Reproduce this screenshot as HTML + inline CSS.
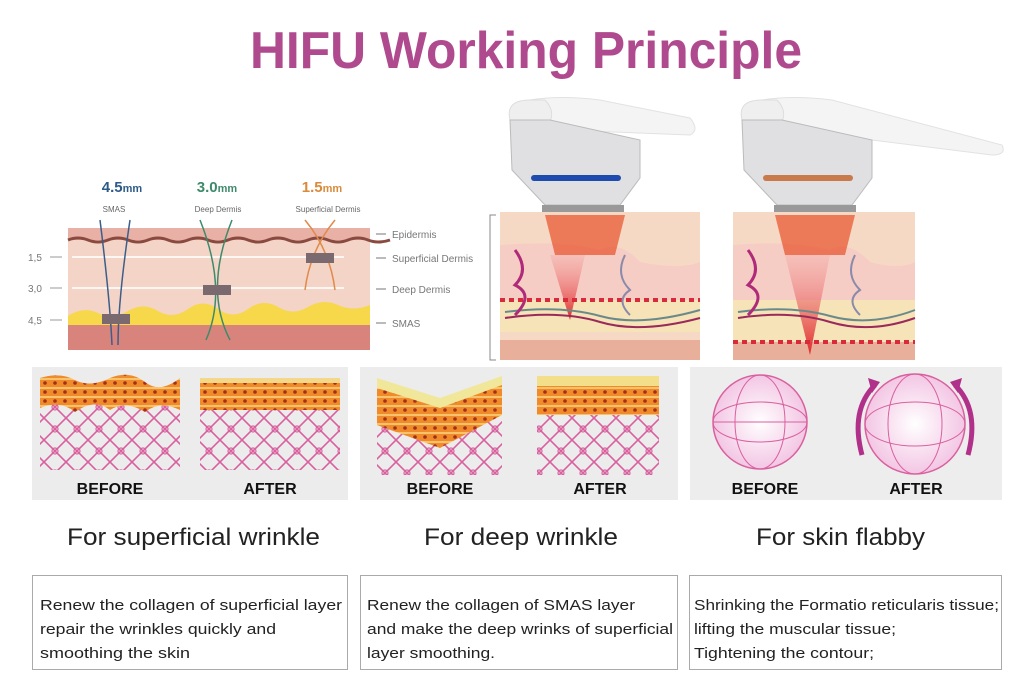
<!DOCTYPE html>
<html><head><meta charset="utf-8"><style>
html,body{margin:0;padding:0;background:#fff;}
svg{display:block;}
</style></head><body>
<svg width="1024" height="680" viewBox="0 0 1024 680" xmlns="http://www.w3.org/2000/svg" font-family="Liberation Sans, sans-serif">
<defs>
<pattern id="mesh" width="22" height="22" patternUnits="userSpaceOnUse">
<path d="M0 0L22 22M22 0L0 22" stroke="#d9609f" stroke-width="1.6" fill="none"/>
<circle cx="11" cy="11" r="3" fill="none" stroke="#d9609f" stroke-width="1.2"/>
</pattern>
<pattern id="dots" width="10" height="9" patternUnits="userSpaceOnUse">
<rect width="10" height="9" fill="#f08a2a"/><rect width="10" height="2" fill="#f6c36a"/><circle cx="5" cy="5" r="1.8" fill="#a0301a"/>
</pattern>
<linearGradient id="beam" x1="0" y1="0" x2="0" y2="1"><stop offset="0" stop-color="#f4a0a0" stop-opacity=".3"/><stop offset="1" stop-color="#e02a2a"/></linearGradient>
<radialGradient id="sph" cx=".5" cy=".5" r=".5"><stop offset="0" stop-color="#fff"/><stop offset="1" stop-color="#f3c6e4"/></radialGradient>
</defs>

<text x="250" y="68" font-size="52" font-weight="bold" fill="#b04a8e" textLength="552" lengthAdjust="spacingAndGlyphs">HIFU Working Principle</text>

<!-- left skin -->
<text x="122" y="192" text-anchor="middle" font-size="15" font-weight="bold" fill="#2d5b87">4.5<tspan font-size="11">mm</tspan></text>
<text x="217" y="192" text-anchor="middle" font-size="15" font-weight="bold" fill="#3e8a6a">3.0<tspan font-size="11">mm</tspan></text>
<text x="322" y="192" text-anchor="middle" font-size="15" font-weight="bold" fill="#d98a3a">1.5<tspan font-size="11">mm</tspan></text>
<text x="114" y="212" text-anchor="middle" font-size="8" fill="#666">SMAS</text>
<text x="218" y="212" text-anchor="middle" font-size="8" fill="#666">Deep Dermis</text>
<text x="328" y="212" text-anchor="middle" font-size="8" fill="#666">Superficial Dermis</text>
<rect x="68" y="228" width="302" height="122" fill="#f3d4c6"/>
<rect x="68" y="228" width="302" height="12" fill="#e9b1a6"/>
<path d="M68 240 q10 -4 20 0 t20 0 t20 0 t20 0 t20 0 t20 0 t20 0 t20 0 t20 0 t20 0 t20 0 t20 0 t20 0 t20 0 t20 0 t22 0" stroke="#8a4a40" stroke-width="3" fill="none"/>
<rect x="72" y="256" width="272" height="2" fill="#fff" opacity=".8"/>
<rect x="72" y="287" width="272" height="2" fill="#fff" opacity=".8"/>
<path d="M68 316 q15 -10 30 -3 t30 -2 t30 0 t30 -2 t30 0 t30 0 t30 -2 t30 0 t30 -2 t32 0 V330 H68Z" fill="#f6d84a"/>
<rect x="68" y="325" width="302" height="25" fill="#d9837d"/>
<g stroke-width="1.5" fill="none">
<path d="M100 220 Q110 300 112 345 M130 220 Q118 300 118 345" stroke="#3c5e8a"/>
<path d="M200 220 Q228 290 206 340 M232 220 Q204 290 230 340" stroke="#3e8a6a"/>
<path d="M305 220 Q330 250 335 290 M335 220 Q310 250 305 290" stroke="#e08a4a"/>
</g>
<rect x="102" y="314" width="28" height="10" fill="#7a6a70"/>
<rect x="203" y="285" width="28" height="10" fill="#7a6a70"/>
<rect x="306" y="253" width="28" height="10" fill="#7a6a70"/>
<g font-size="10" fill="#777">
<text x="28" y="261">1,5</text><text x="28" y="292">3,0</text><text x="28" y="324">4,5</text>
<line x1="50" y1="257" x2="62" y2="257" stroke="#999"/><line x1="50" y1="288" x2="62" y2="288" stroke="#999"/><line x1="50" y1="320" x2="62" y2="320" stroke="#999"/>
<text x="392" y="238">Epidermis</text><text x="392" y="262">Superficial Dermis</text><text x="392" y="293">Deep Dermis</text><text x="392" y="327">SMAS</text>
<line x1="376" y1="234" x2="386" y2="234" stroke="#777"/><line x1="376" y1="258" x2="386" y2="258" stroke="#777"/><line x1="376" y1="289" x2="386" y2="289" stroke="#777"/><line x1="376" y1="323" x2="386" y2="323" stroke="#777"/>
</g>
<path d="M496 215 H490 V360 H496" stroke="#888" fill="none"/>

<!-- handpieces -->
<g>
<path d="M530 100 Q560 95 600 100 L690 118 Q700 130 690 135 L560 130 Z" fill="#f4f4f4" stroke="#e2e2e2"/>
<path d="M510 120 Q505 100 530 100 L545 100 Q555 110 550 122 Z" fill="#efefef" stroke="#ddd"/>
<path d="M510 120 H550 L640 140 V178 L620 205 H545 L512 170 Z" fill="#e0e0e3" stroke="#bbb"/>
<rect x="531" y="175" width="90" height="6" rx="3" fill="#1e4bb0"/>
<rect x="542" y="205" width="82" height="7" fill="#999"/>
</g>
<g transform="translate(232 0)">
<path d="M530 100 Q560 95 600 100 L770 145 Q775 155 760 155 L560 130 Z" fill="#f4f4f4" stroke="#e2e2e2"/>
<path d="M510 120 Q505 100 530 100 L545 100 Q555 110 550 122 Z" fill="#efefef" stroke="#ddd"/>
<path d="M510 120 H550 L640 140 V178 L620 205 H545 L512 170 Z" fill="#e0e0e3" stroke="#bbb"/>
<rect x="531" y="175" width="90" height="6" rx="3" fill="#c87a4a"/>
<rect x="542" y="205" width="82" height="7" fill="#999"/>
</g>

<!-- right skin panels -->
<g>
<rect x="500" y="212" width="200" height="148" fill="#f6d9c4"/>
<path d="M500 245 Q560 240 600 250 Q620 240 640 262 Q680 270 700 262 V300 H500Z" fill="#f6cdc4"/>
<rect x="500" y="300" width="200" height="32" fill="#f6e3b8"/>
<rect x="500" y="340" width="200" height="20" fill="#e8b09a"/>
<path d="M545 215 h80 l-10 40 h-60z" fill="#e8502a" opacity=".7"/>
<path d="M550 255 L585 255 L570 320 Z" fill="url(#beam)"/>
<path d="M500 300 H700" stroke="#d82a3a" stroke-width="4" stroke-dasharray="5 4"/>
<path d="M505 318 Q560 310 600 322 T700 318" stroke="#9a2a5a" stroke-width="2" fill="none"/>
<path d="M505 312 Q560 305 600 316 T700 310" stroke="#6a8a8a" stroke-width="2" fill="none"/>
<path d="M515 250 q15 20 0 35 q20 10 0 30" stroke="#b02a7a" stroke-width="3" fill="none"/>
<path d="M625 255 q-10 20 5 35 q-15 10 0 25" stroke="#8a8aaa" stroke-width="2" fill="none"/>
</g>
<g>
<rect x="733" y="212" width="182" height="148" fill="#f6d9c4"/>
<path d="M733 245 Q790 240 830 250 Q850 240 870 262 Q900 270 915 262 V300 H733Z" fill="#f6cdc4"/>
<rect x="733" y="300" width="182" height="42" fill="#f6e3b8"/>
<rect x="733" y="342" width="182" height="18" fill="#e8b09a"/>
<path d="M775 215 h80 l-10 40 h-60z" fill="#e8502a" opacity=".7"/>
<path d="M785 255 L830 255 L810 355 Z" fill="url(#beam)"/>
<path d="M733 342 H915" stroke="#d82a3a" stroke-width="4" stroke-dasharray="5 4"/>
<path d="M738 318 Q790 310 830 322 T915 318" stroke="#9a2a5a" stroke-width="2" fill="none"/>
<path d="M738 312 Q790 305 830 316 T915 310" stroke="#6a8a8a" stroke-width="2" fill="none"/>
<path d="M748 250 q15 20 0 35 q20 10 0 30" stroke="#b02a7a" stroke-width="3" fill="none"/>
<path d="M855 255 q-10 20 5 35 q-15 10 0 25" stroke="#8a8aaa" stroke-width="2" fill="none"/>
</g>

<!-- bottom panels -->
<rect x="32" y="367" width="316" height="133" fill="#ececec"/>
<rect x="360" y="367" width="318" height="133" fill="#ececec"/>
<rect x="690" y="367" width="312" height="133" fill="#ededed"/>

<rect x="40" y="390" width="140" height="80" fill="url(#mesh)"/>
<path d="M40 378 Q60 372 75 380 T110 378 Q130 370 145 382 T180 378 V410 Q160 400 145 412 Q125 400 110 410 Q95 398 75 412 Q60 400 40 408Z" fill="url(#dots)"/>
<rect x="200" y="395" width="140" height="75" fill="url(#mesh)"/>
<rect x="200" y="382" width="140" height="28" fill="url(#dots)"/>
<rect x="200" y="378" width="140" height="5" fill="#f3d88a"/>

<rect x="377" y="420" width="125" height="55" fill="url(#mesh)"/>
<path d="M377 383 L440 405 L502 380 V415 L440 448 L377 425Z" fill="url(#dots)"/>
<path d="M377 378 L440 398 L502 376 V385 L440 408 L377 388Z" fill="#f1e79a"/>
<rect x="537" y="410" width="122" height="65" fill="url(#mesh)"/>
<rect x="537" y="385" width="122" height="30" fill="url(#dots)"/>
<rect x="537" y="376" width="122" height="10" fill="#f3de8a"/>

<circle cx="760" cy="422" r="47" fill="url(#sph)" stroke="#d9609f" stroke-width="1.5"/>
<ellipse cx="760" cy="422" rx="25" ry="47" fill="none" stroke="#d9609f"/>
<ellipse cx="760" cy="422" rx="47" ry="20" fill="none" stroke="#d9609f"/>
<line x1="713" y1="422" x2="807" y2="422" stroke="#d9609f"/>
<circle cx="915" cy="424" r="50" fill="url(#sph)" stroke="#d9609f" stroke-width="1.5"/>
<ellipse cx="915" cy="424" rx="27" ry="50" fill="none" stroke="#d9609f"/>
<ellipse cx="915" cy="424" rx="50" ry="22" fill="none" stroke="#d9609f"/>
<path d="M862 455 Q850 410 875 385" stroke="#b0308a" stroke-width="5" fill="none"/>
<path d="M868 378 L880 382 L872 393Z" fill="#b0308a"/>
<path d="M968 455 Q980 410 955 385" stroke="#b0308a" stroke-width="5" fill="none"/>
<path d="M962 378 L950 382 L958 393Z" fill="#b0308a"/>

<g font-size="16" font-weight="bold" fill="#111" text-anchor="middle">
<text x="110" y="494">BEFORE</text><text x="270" y="494">AFTER</text>
<text x="440" y="494">BEFORE</text><text x="600" y="494">AFTER</text>
<text x="765" y="494">BEFORE</text><text x="916" y="494">AFTER</text>
</g>
<g font-size="24" fill="#222" lengthAdjust="spacingAndGlyphs">
<text x="67" y="545" textLength="253" lengthAdjust="spacingAndGlyphs">For superficial wrinkle</text>
<text x="424" y="545" textLength="194" lengthAdjust="spacingAndGlyphs">For deep wrinkle</text>
<text x="756" y="545" textLength="169" lengthAdjust="spacingAndGlyphs">For skin flabby</text>
</g>
<g fill="none" stroke="#aaa">
<rect x="32.5" y="575.5" width="315" height="94"/>
<rect x="360.5" y="575.5" width="317" height="94"/>
<rect x="689.5" y="575.5" width="312" height="94"/>
</g>
<g font-size="14.5" fill="#222">
<text x="40" y="610" textLength="302" lengthAdjust="spacingAndGlyphs">Renew the collagen of  superficial layer</text>
<text x="40" y="634" textLength="236" lengthAdjust="spacingAndGlyphs">repair the wrinkles quickly and</text>
<text x="40" y="658" textLength="150" lengthAdjust="spacingAndGlyphs">smoothing the skin</text>
<text x="367" y="610" textLength="268" lengthAdjust="spacingAndGlyphs">Renew the collagen of  SMAS layer</text>
<text x="367" y="634" textLength="306" lengthAdjust="spacingAndGlyphs">and make the deep wrinks of superficial</text>
<text x="367" y="658" textLength="128" lengthAdjust="spacingAndGlyphs">layer smoothing.</text>
<text x="694" y="610" textLength="305" lengthAdjust="spacingAndGlyphs">Shrinking the Formatio reticularis tissue;</text>
<text x="694" y="634" textLength="202" lengthAdjust="spacingAndGlyphs">lifting the muscular tissue;</text>
<text x="694" y="658" textLength="180" lengthAdjust="spacingAndGlyphs">Tightening the contour;</text>
</g>
</svg>
</body></html>
